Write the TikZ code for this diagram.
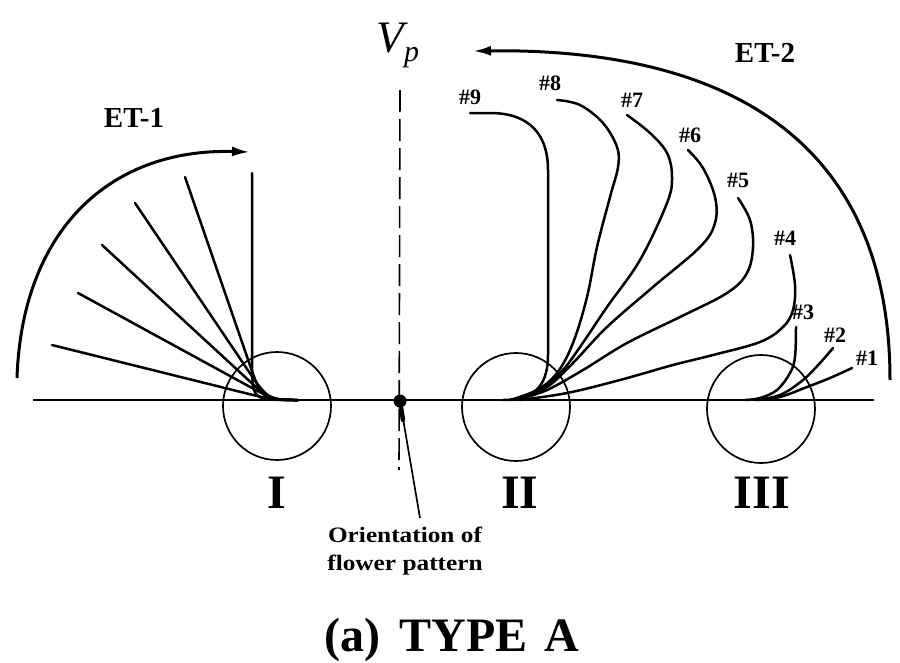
\documentclass[tikz,border=0pt]{standalone}
\usepackage{fontspec}
\usepackage{graphicx}
\setmainfont{Liberation Serif}
\usetikzlibrary{arrows.meta,calc}
\begin{document}
\begin{tikzpicture}[x=1pt,y=-1pt,
  fan/.style={line width=2.5pt, line cap=round, line join=round},
  ring/.style={draw, circle, line width=1.7pt, minimum size=108pt, inner sep=0pt},
  numlbl/.style={font=\bfseries\fontsize{22}{22}\selectfont, inner sep=0pt},
  roman/.style={font=\bfseries\fontsize{48}{48}\selectfont, inner sep=0pt},
  etlbl/.style={font=\bfseries\fontsize{29}{29}\selectfont, inner sep=0pt},
  swing/.style={line width=3pt, -{Latex[length=18pt,width=10pt]}},
]
\useasboundingbox (0,0) rectangle (900,662);
% base line
\coordinate (bl) at (33,400);
\coordinate (br) at (874,400);
\draw[line width=2.2pt] (bl) -- (br);
% circles
\node[ring] (c1) at (277,406) {};
\node[ring] (c2) at (516,407) {};
\node[ring] (c3) at (761,409) {};
% roman labels
\node[roman] (r1) at (277,493) {I};
\node[roman] (r2) at (520,493) {II};
\node[roman] (r3) at (762,493) {III};
% dashed axis and dot
\coordinate (vt) at (400,90);
\coordinate (vb) at (399,470);
\draw[line width=1.6pt, dash pattern=on 22pt off 7pt] (vt) -- (vb);
\node[circle, fill, minimum size=13pt, inner sep=0pt] (dot) at (400,401) {};
\coordinate (ptrk) at (403,420);
\coordinate (ptr) at (420,518);
\draw[line width=4.5pt, line cap=round] (dot.center) -- (ptrk);
\draw[line width=1.7pt] (dot.center) -- (ptr);
\node[font=\bfseries\fontsize{22}{28}\selectfont, align=center, anchor=north, inner sep=0pt] (ori) at (405,527)
  {\scalebox{1.15}[1]{Orientation of}\\\scalebox{1.15}[1]{flower pattern}};
% V_p
\node[inner sep=0pt] (vp) at (398,45) {\fontsize{45}{45}\selectfont\itshape V\raisebox{-9pt}{\fontsize{30}{30}\selectfont p}};
% title
\node[anchor=base, font=\bfseries\fontsize{48}{48}\selectfont, inner sep=0pt] (title) at (452,651) {(a)\hspace{0.4em}TYPE\hspace{0.35em}A};
% ET labels
\node[etlbl] (et1) at (134,118) {ET-1};
\node[etlbl] (et2) at (765,53) {ET-2};
% ET-1 swing arrow
\coordinate (s1a) at (17,378);
\coordinate (s1b) at (250,152);
\draw[swing] (s1a) .. controls (22,230) and (110,148) .. (s1b);
% ET-2 swing arrow
\coordinate (s2a) at (890,380);
\coordinate (s2b) at (473,51);
\draw[swing] (s2a) .. controls (890,150) and (740,48) .. (s2b);
% left fan (ET-1)
\coordinate (E1) at (298,400);
\foreach \px/\py/\ax in {52/345/273, 78/293/274, 102/245/270, 135/203/268, 185/177/262}{
  \draw[fan] (\px,\py) -- ($(\ax,400)!40pt!(\px,\py)$) .. controls (\ax,400) .. (E1);
}
\draw[fan] (252,173) -- (252,360) .. controls (252,400) .. (292,400);
% right fan (ET-2)
\draw[fan] (470,113) -- (490,113) .. controls (530,113) and (548,135) .. (548,170) -- (548,355) .. controls (548,390) and (530,400) .. (503,400);
\draw[fan] plot[smooth, tension=0.6] coordinates {(557,100) (580,105) (603,123) (617,147) (618,167) (610,197) (597,247) (587,297) (573,343) (557,373) (537,390) (510,400)};
\draw[fan] plot[smooth, tension=0.6] coordinates {(627,115) (650,133) (667,153) (672,177) (667,203) (640,260) (607,307) (580,347) (562,371) (540,389) (513,400)};
\draw[fan] plot[smooth, tension=0.6] coordinates {(688,150) (703,168) (715,197) (715,223) (700,247) (653,287) (607,327) (573,363) (547,387) (517,400)};
\draw[fan] plot[smooth, tension=0.6] coordinates {(738,198) (750,220) (753,247) (747,273) (727,293) (680,317) (627,343) (583,370) (547,390) (517,400)};
\draw[fan] plot[smooth, tension=0.6] coordinates {(790,255) (795,285) (793,310) (783,327) (760,342) (713,355) (673,365) (620,380) (567,393) (520,400)};
\draw[fan] plot[smooth, tension=0.6] coordinates {(796,327) (795,357) (790,373) (777,390) (760,398) (745,400)};
\draw[fan] plot[smooth, tension=0.6] coordinates {(833,348) (820,363) (803,380) (780,395) (755,400)};
\draw[fan] plot[smooth, tension=0.6] coordinates {(852,368) (830,378) (807,387) (780,397) (757,400)};
% number labels
\node[numlbl] (n9) at (470,97) {\#9};
\node[numlbl] (n8) at (550,83) {\#8};
\node[numlbl] (n7) at (632,100) {\#7};
\node[numlbl] (n6) at (690,135) {\#6};
\node[numlbl] (n5) at (738,180) {\#5};
\node[numlbl] (n4) at (785,238) {\#4};
\node[numlbl] (n3) at (803,312) {\#3};
\node[numlbl] (n2) at (835,335) {\#2};
\node[numlbl] (n1) at (867,358) {\#1};
\end{tikzpicture}
\end{document}
